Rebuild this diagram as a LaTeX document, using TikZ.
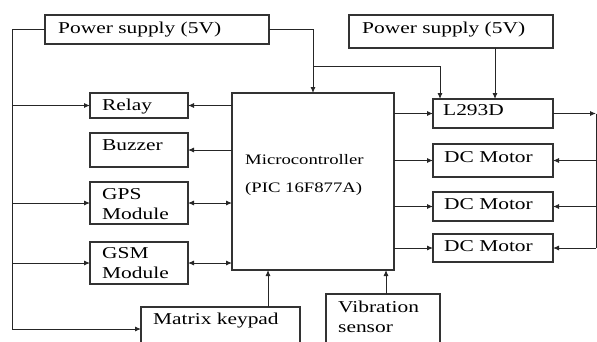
\documentclass[tikz,border=0pt]{standalone}
\usepackage{fontspec}
\setmainfont{Liberation Serif}[FakeStretch=1.29]
\usetikzlibrary{arrows.meta}

\tikzset{
  blk/.style={draw=black!80, line width=1.2pt, rectangle, anchor=north west,
              inner sep=0pt, outer sep=0pt},
  lbl/.style={anchor=base west, inner sep=0pt, align=left,
              font=\fontsize{16.6pt}{19.5pt}\selectfont},
  wire/.style={black!85, line width=0.9pt},
  arr/.style={wire, -{Latex[length=6pt,width=5pt]}},
  darr/.style={wire, {Latex[length=6pt,width=5pt]}-{Latex[length=6pt,width=5pt]}},
}

\begin{document}
\begin{tikzpicture}[x=1pt, y=-1pt]
  \useasboundingbox (0,0) rectangle (597,341);
  \clip (0,0) rectangle (597,341);

  % ブロック（枠）
  \node[blk, minimum width=224, minimum height=29] (psu1) at (45,15) {};
  \node[blk, minimum width=204, minimum height=33] (psu2) at (349,15) {};
  \node[blk, minimum width=98, minimum height=25] (relay) at (90,93) {};
  \node[blk, minimum width=98, minimum height=34] (buzzer) at (90,133) {};
  \node[blk, minimum width=98, minimum height=42] (gps) at (90,182) {};
  \node[blk, minimum width=98, minimum height=42] (gsm) at (90,242) {};
  \node[blk, minimum width=162, minimum height=177] (mcu) at (232,93) {};
  \node[blk, minimum width=120, minimum height=29] (l293) at (433,99) {};
  \node[blk, minimum width=120, minimum height=33] (m1) at (433,144) {};
  \node[blk, minimum width=120, minimum height=29] (m2) at (433,192) {};
  \node[blk, minimum width=120, minimum height=28] (m3) at (433,234) {};
  \node[blk, minimum width=159, minimum height=45] (keypad) at (141,307) {};
  \node[blk, minimum width=114, minimum height=55] (vib) at (326,294) {};

  % ラベル（複数行は最終行のベースライン）
  \node[lbl] (psu1-t) at (58,33) {Power supply (5V)};
  \node[lbl] (psu2-t) at (362,33) {Power supply (5V)};
  \node[lbl] (relay-t) at (102,110) {Relay};
  \node[lbl] (buzzer-t) at (102,150) {Buzzer};
  \node[lbl] (gps-t) at (102,219) {GPS\\Module};
  \node[lbl] (gsm-t) at (102,278) {GSM\\Module};
  \node[lbl, font=\fontsize{14.5pt}{28pt}\selectfont] (mcu-t) at (245,192)
    {Microcontroller\\(PIC 16F877A)};
  \node[lbl] (l293-t) at (443,115) {L293D};
  \node[lbl] (m1-t) at (444,162) {DC Motor};
  \node[lbl] (m2-t) at (444,209) {DC Motor};
  \node[lbl] (m3-t) at (444,251) {DC Motor};
  \node[lbl] (keypad-t) at (153,324) {Matrix keypad};
  \node[lbl] (vib-t) at (338,332) {Vibration\\sensor};

  % 左の電源ライン
  \coordinate (bus-top) at (12,29.5);
  \coordinate (bus-bot) at (12,329);
  \draw[arr] (psu1.west) -- (bus-top) -- (bus-bot) -- (bus-bot -| keypad.west);
  \foreach \b in {relay, gps, gsm} {
    \draw[arr] (bus-top |- \b) -- (\b.west);
  }

  % マイコン → 左側ブロック
  \draw[arr] (mcu.west |- relay) -- (relay.east);
  \draw[arr] (mcu.west |- buzzer) -- (buzzer.east);
  \draw[darr] (gps.east) -- (gps.east -| mcu.west);
  \draw[darr] (gsm.east) -- (gsm.east -| mcu.west);

  % 電源 → マイコン, L293D
  \coordinate (pwr-r) at (313,29.5);
  \coordinate (br) at (313,66);
  \coordinate (l-in) at (440,66);
  \coordinate (p2) at (495,48);
  \draw[arr] (psu1.east) -- (pwr-r) -- (pwr-r |- mcu.north);
  \draw[arr] (br) -- (l-in) -- (l-in |- l293.north);
  \draw[arr] (p2) -- (p2 |- l293.north);

  % マイコン → L293D, モーター
  \foreach \m in {l293, m1, m2, m3} {
    \draw[arr] (mcu.east |- \m) -- (\m.west);
  }

  % L293D → モーター（右側）
  \coordinate (rbus) at (596,113.5);
  \draw[arr] (l293.east) -- (rbus);
  \draw[wire] (rbus) -- (rbus |- m3);
  \foreach \m in {m1, m2, m3} {
    \draw[arr] (rbus |- \m) -- (\m.east);
  }

  % 入力 → マイコン
  \coordinate (kp-up) at (268,307);
  \coordinate (vb-up) at (386,294);
  \draw[arr] (kp-up) -- (kp-up |- mcu.south);
  \draw[arr] (vb-up) -- (vb-up |- mcu.south);
\end{tikzpicture}
\end{document}
